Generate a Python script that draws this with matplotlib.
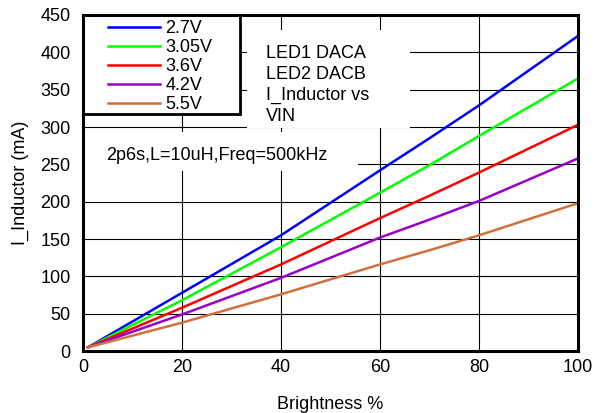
import numpy as np
import matplotlib
matplotlib.use("Agg")
import matplotlib.pyplot as plt
from matplotlib.patches import Rectangle

plt.rcParams['font.family'] = ['Liberation Sans', 'DejaVu Sans']

# --------------------- data ---------------------
brightness = [1, 20, 40, 60, 70, 80, 100]
i_27 = [5, 78, 155, 242, 285, 329, 422]
i_305 = [5, 68, 139, 212, 249, 288, 365]
i_36 = [5, 58, 116, 178, 208, 239, 303]
i_42 = [5, 49, 98, 152, 176, 201, 258]
i_55 = [5, 38, 76, 116, 135, 155, 198]

labels = ['2.7V', '3.05V', '3.6V', '4.2V', '5.5V']
colors = ['#0000FF', '#00FF00', '#FF0000', '#9900CC', '#D0703C']
series = [i_27, i_305, i_36, i_42, i_55]

x_ticks = [0, 20, 40, 60, 80, 100]
y_ticks = list(range(0, 451, 50))

f_size = 13

# --------------------- plot ---------------------
fig = plt.figure(figsize=(5.95, 4.13), dpi=100)
ax = fig.add_axes([0.1395, 0.150, 0.832, 0.8137])

for vals, lab, col in zip(series, labels, colors):
    ax.plot(brightness, vals, color=col, linewidth=1.8, label=lab, zorder=4)

ax.set_xlim(0, 100)
ax.set_ylim(0, 450)
ax.set_xticks(x_ticks)
ax.set_yticks(y_ticks)
ax.tick_params(length=0, labelsize=f_size)
ax.tick_params(axis='x', pad=6)
ax.tick_params(axis='y', pad=9)
ax.grid(True, color='black', linewidth=0.8, zorder=1)
ax.set_axisbelow(True)
for s in ax.spines.values():
    s.set_linewidth(2.2)
    s.set_zorder(6)

ax.set_xlabel("Brightness %", fontsize=f_size, labelpad=14)
ax.set_ylabel("I_Inductor (mA)", fontsize=f_size, labelpad=8)

# white boxes hiding the grid behind the notes
ax.add_patch(Rectangle((0.331, 0.664), 0.33, 0.291, transform=ax.transAxes,
                       facecolor='white', edgecolor='none', zorder=2))
ax.add_patch(Rectangle((0.004, 0.536), 0.552, 0.116, transform=ax.transAxes,
                       facecolor='white', edgecolor='none', zorder=2))
# legend frame
ax.add_patch(Rectangle((0.0, 0.705), 0.317, 0.295, transform=ax.transAxes,
                       facecolor='white', edgecolor='black', linewidth=2.0,
                       zorder=5, clip_on=False))

ax.text(0.370, 0.792, "LED1 DACA\nLED2 DACB\nI_Inductor vs\nVIN",
        transform=ax.transAxes, fontsize=f_size, ha='left', va='center',
        linespacing=1.3, zorder=3)
ax.text(0.046, 0.583, "2p6s,L=10uH,Freq=500kHz", transform=ax.transAxes,
        fontsize=f_size, ha='left', va='center', zorder=3)

leg = ax.legend(loc='upper left', bbox_to_anchor=(0.0505, 0.985), borderaxespad=0,
                fontsize=f_size, frameon=False, handlelength=2.9,
                handletextpad=0.28, labelspacing=0.11, borderpad=0)
leg.set_zorder(7)

fig.savefig('out.png', dpi=100)
